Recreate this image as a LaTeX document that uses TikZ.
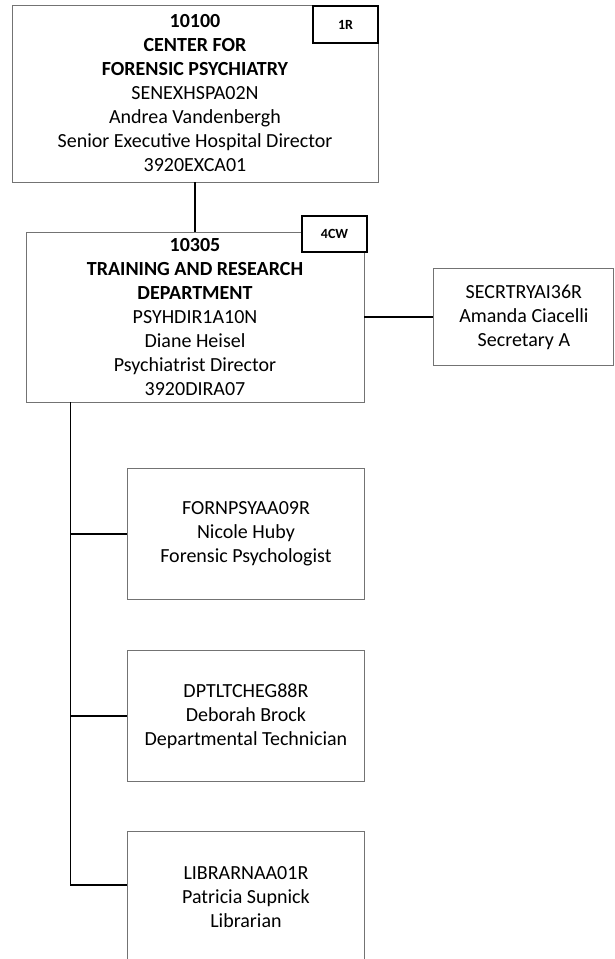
\documentclass[tikz,border=0pt]{standalone}
\usepackage{fontspec}
\setmainfont{Carlito}
\usetikzlibrary{positioning}

\begin{document}
\begin{tikzpicture}[
    x=1pt, y=-1pt,
    node distance=50pt and 69pt,
    unit/.style={rectangle, draw=black!55, line width=0.9pt, fill=white, align=center, inner sep=0pt, font=\fontsize{20}{24}\selectfont},
    staff/.style={unit, minimum width=237pt, minimum height=131pt},
    tag/.style={rectangle, draw=black, line width=1.6pt, fill=white, minimum width=65pt, minimum height=36pt, font=\bfseries\fontsize{14}{16}\selectfont},
    link/.style={line width=1.6pt}
]
\useasboundingbox (0,0) rectangle (614,959);
\clip (0,0) rectangle (614,959);

\node[unit, minimum width=366pt, minimum height=177pt] (center) at (195,93.5) {\textbf{10100}\\\textbf{CENTER FOR}\\\textbf{FORENSIC PSYCHIATRY}\\SENEXHSPA02N\\Andrea Vandenbergh\\Senior Executive Hospital Director\\3920EXCA01};
\node[tag, minimum height=37pt] (tagcenter) at (345.5,24.5) {1R};

\node[unit, minimum width=338pt, minimum height=170pt] (dept) at (195,317) {\textbf{10305}\\\textbf{TRAINING AND RESEARCH}\\\textbf{DEPARTMENT}\\PSYHDIR1A10N\\Diane Heisel\\Psychiatrist Director\\3920DIRA07};
\node[tag] (tagdept) at (334.5,234) {4CW};

\node[unit, minimum width=180pt, minimum height=97pt, right=of dept] (secr) {SECRTRYAI36R\\Amanda Ciacelli\\Secretary A};

\node[staff, anchor=north west] (fpsy) at (127,468) {FORNPSYAA09R\\Nicole Huby\\Forensic Psychologist};
\node[staff, below=of fpsy] (dptl) {DPTLTCHEG88R\\Deborah Brock\\Departmental Technician};
\node[staff, below=49pt of dptl] (libr) {LIBRARNAA01R\\Patricia Supnick\\Librarian};

\coordinate (trunk) at ([xshift=45pt]dept.south west);
\coordinate (librtap) at ([yshift=11.5pt]libr.west);

\draw[link] (center) -- (dept);
\draw[link] (dept) -- (secr);
\draw[link] (trunk) |- (librtap);
\draw[link] (trunk |- fpsy.west) -- (fpsy.west);
\draw[link] (trunk |- dptl.west) -- (dptl.west);
\end{tikzpicture}
\end{document}
